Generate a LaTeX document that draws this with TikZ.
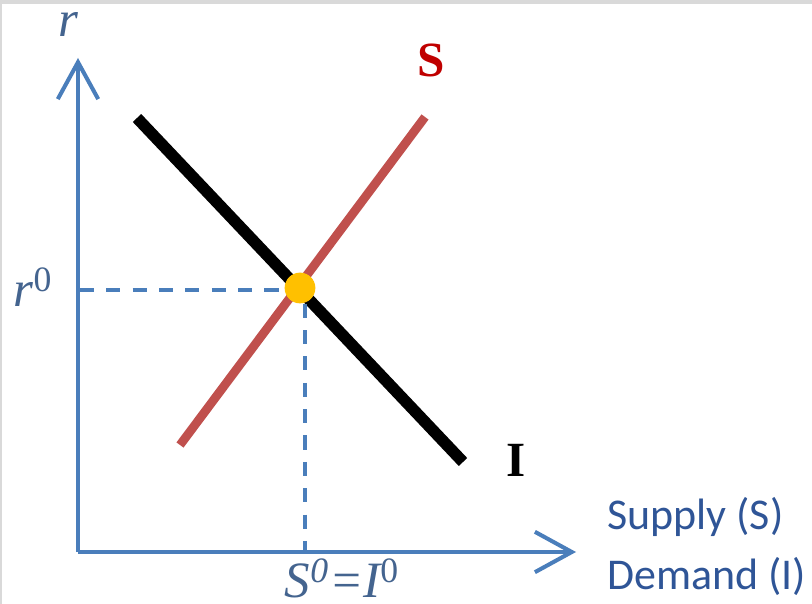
\documentclass[tikz,border=0pt]{standalone}
\usepackage{fontspec}
\setmainfont{Liberation Serif}
\setsansfont{Carlito}
\usetikzlibrary{arrows.meta}
\definecolor{axisblue}{HTML}{4A7EBB}
\definecolor{labelblue}{HTML}{44648F}
\definecolor{textblue}{HTML}{2F5597}
\definecolor{supplyred}{HTML}{C0504D}
\definecolor{slabel}{HTML}{C00000}
\definecolor{eqgold}{HTML}{FFC000}

\begin{document}
\begin{tikzpicture}[x=0.02cm, y=-0.02cm,
    axis/.style={draw=axisblue, line width=2.3pt, -{Straight Barb[length=21pt, width=23pt]}},
    guide/.style={draw=axisblue, line width=2.2pt, dash pattern=on 8pt off 7pt},
    serif/.style={font=\fontsize{29}{32}\selectfont\itshape, text=labelblue, inner sep=0pt},
    curvename/.style={font=\fontsize{28}{32}\selectfont\bfseries, inner sep=0pt},
    axisname/.style={font=\sffamily\fontsize{25}{30}\selectfont, text=textblue, inner sep=0pt, anchor=base west}]

    % frame
    \useasboundingbox (0,0) rectangle (812,604);
    \fill[white] (0,0) rectangle (812,604);
    \fill[black!15] (0,0) rectangle (812,4);
    \fill[black!15] (0,0) rectangle (2,604);

    % axes
    \coordinate (origin) at (78,552);
    \coordinate (ytip) at (78,58);
    \coordinate (xtip) at (576,552);
    \draw[axis] (origin) -- (ytip);
    \draw[axis] (origin) -- (xtip);

    % investment and saving
    \coordinate (i0) at (137,118);
    \coordinate (i1) at (463,462);
    \coordinate (s0) at (180,445);
    \coordinate (s1) at (425,117);
    \draw[line width=6.6pt, black] (i0) -- (i1);
    \draw[line width=5pt, supplyred] (s0) -- (s1);

    % equilibrium
    \node[circle, fill=eqgold, inner sep=0pt, minimum size=17.5pt] (eq) at (300,288) {};
    \coordinate (ry) at (80,290);
    \coordinate (sx) at (305,550);
    \draw[guide] (ry) -- (eq.west |- ry);
    \draw[guide] (eq.south -| sx) -- (sx);

    % labels
    \node[serif, anchor=base] (rlab) at (68,37) {r};
    \node[serif, anchor=base] (r0lab) at (33,307) {r\textsuperscript{\upshape 0}};
    \node[serif, anchor=base] (s0lab) at (342,598) {S\textsuperscript{0}=I\textsuperscript{\upshape 0}};
    \node[curvename, text=slabel] (slab) at (431,60) {S};
    \node[curvename, text=black] (ilab) at (516,460) {I};
    \node[axisname] (supply) at (607,530) {Supply (S)};
    \node[axisname] (demand) at (607,590) {Demand (I)};
\end{tikzpicture}
\end{document}
